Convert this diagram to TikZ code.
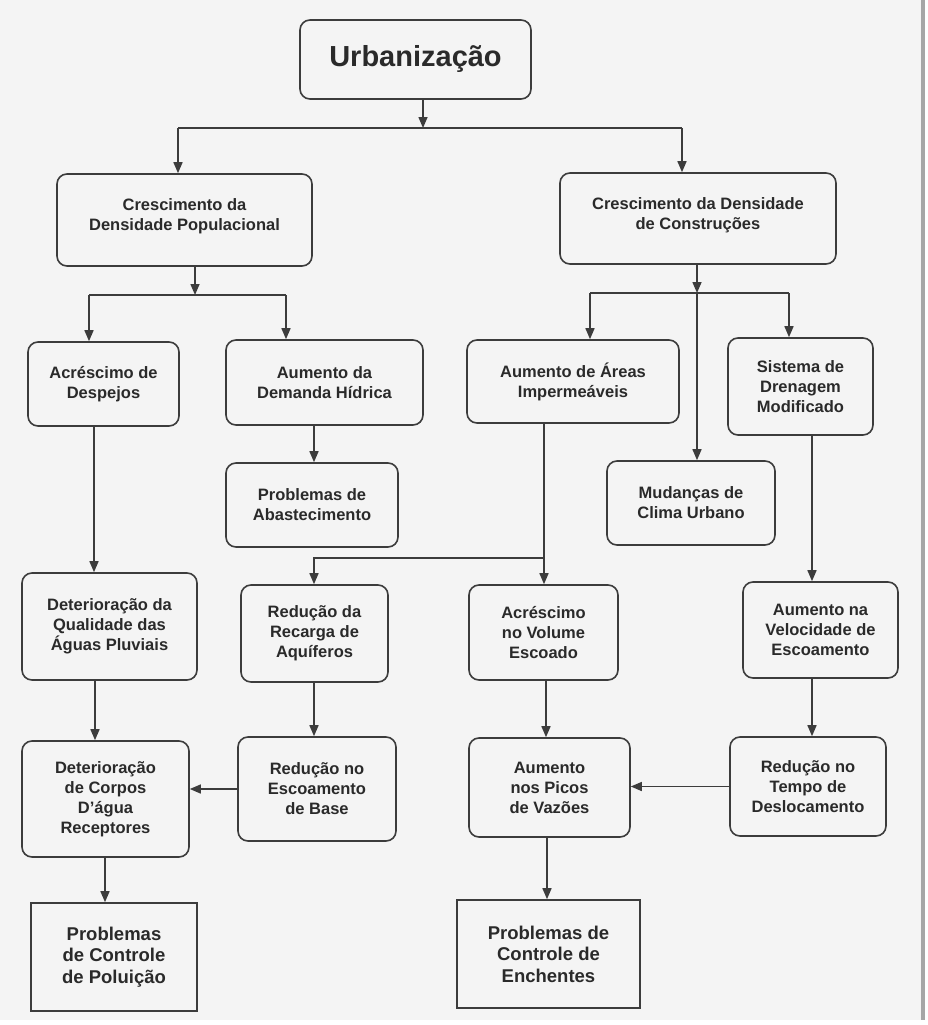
\documentclass[tikz,border=0pt]{standalone}
\usepackage{fontspec}
\setmainfont{Liberation Sans}
\usetikzlibrary{arrows.meta,calc}
\definecolor{bg}{HTML}{F4F4F4}
\definecolor{ln}{HTML}{3C3C3C}
\definecolor{tx}{HTML}{2A2A2A}
\tikzset{
  rbox/.style={draw=ln, line width=1.6pt, rounded corners=10pt, fill=bg, inner sep=0pt,
    align=center, text=tx, font=\fontsize{16.5}{20}\selectfont\bfseries},
  sbox/.style={draw=ln, line width=1.6pt, fill=bg, inner sep=0pt,
    align=center, text=tx, font=\fontsize{18.5}{21.5}\selectfont\bfseries},
  arr/.style={draw=ln, line width=1.5pt, -{Triangle[length=11pt,width=9pt]}},
  ln/.style={draw=ln, line width=1.5pt},
}
\begin{document}
\begin{tikzpicture}[x=1pt,y=-1pt]
\useasboundingbox (0,0) rectangle (927,1025);
\fill[white] (0,0) rectangle (927,1025);
\fill[bg] (0,0) rectangle (921,1020);
\fill[gray!70] (921,0) rectangle (925,1020);

% nodes
\node[rbox, minimum width=231pt, minimum height=79pt, font=\fontsize{29}{34}\selectfont\bfseries] (urb) at (415.5,59.5) {Urbanização};
\node[rbox, minimum width=255pt, minimum height=92pt, text depth=10pt] (cdp) at (184.5,220) {Crescimento da\\Densidade Populacional};
\node[rbox, minimum width=276pt, minimum height=91pt, text depth=10pt] (cdc) at (698,218.5) {Crescimento da Densidade\\de Construções};
\node[rbox, minimum width=151pt, minimum height=84pt] (desp) at (103.5,384) {Acréscimo de\\Despejos};
\node[rbox, minimum width=197pt, minimum height=85pt] (dem) at (324.5,382.5) {Aumento da\\Demanda Hídrica};
\node[rbox, minimum width=212pt, minimum height=83pt] (areas) at (573,381.5) {Aumento de Áreas\\Impermeáveis};
\node[rbox, minimum width=145pt, minimum height=97pt] (sist) at (800.5,386.5) {Sistema de\\Drenagem\\Modificado};
\node[rbox, minimum width=172pt, minimum height=84pt] (abast) at (312,505) {Problemas de\\Abastecimento};
\node[rbox, minimum width=168pt, minimum height=84pt] (clima) at (691,503) {Mudanças de\\Clima Urbano};
\node[rbox, minimum width=175pt, minimum height=107pt] (qual) at (109.5,626.5) {Deterioração da\\Qualidade das\\Águas Pluviais};
\node[rbox, minimum width=147pt, minimum height=97pt] (rec) at (314.5,633.5) {Redução da\\Recarga de\\Aquíferos};
\node[rbox, minimum width=149pt, minimum height=95pt] (vol) at (543.5,632.5) {Acréscimo\\no Volume\\Escoado};
\node[rbox, minimum width=155pt, minimum height=96pt] (vel) at (820.5,630) {Aumento na\\Velocidade de\\Escoamento};
\node[rbox, minimum width=167pt, minimum height=116pt] (corpos) at (105.5,799) {Deterioração\\de Corpos\\D'água\\Receptores};
\node[rbox, minimum width=158pt, minimum height=104pt] (base) at (317,789) {Redução no\\Escoamento\\de Base};
\node[rbox, minimum width=161pt, minimum height=99pt] (picos) at (549.5,787.5) {Aumento\\nos Picos\\de Vazões};
\node[rbox, minimum width=156pt, minimum height=99pt] (tempo) at (808,786.5) {Redução no\\Tempo de\\Deslocamento};
\node[sbox, minimum width=166pt, minimum height=108pt] (polu) at (114,957) {Problemas\\de Controle\\de Poluição};
\node[sbox, minimum width=183pt, minimum height=108pt] (ench) at (548.5,954) {Problemas de\\Controle de\\Enchentes};

% junction coordinates
\coordinate (j1) at (423,128);
\coordinate (jL) at (178,128);
\coordinate (jR) at (682,128);
\coordinate (j2) at (195,295);
\coordinate (a1) at (89,295);
\coordinate (a2) at (286,295);
\coordinate (j3) at (697,293);
\coordinate (b1) at (590,293);
\coordinate (b2) at (789,293);
\coordinate (x94) at (94,0);
\coordinate (x314) at (314,0);
\coordinate (x812) at (812,0);
\coordinate (x95) at (95,0);
\coordinate (x546) at (546,0);
\coordinate (x105) at (105,0);
\coordinate (x547) at (547,0);
\coordinate (k) at (544,558);
\coordinate (k2) at (314,558);

% connectors
\draw[arr] (urb.south -| j1) -- (j1);
\draw[ln] (jL) -- (jR);
\draw[arr] (jL) -- (jL |- cdp.north);
\draw[arr] (jR) -- (jR |- cdc.north);

\draw[arr] (cdp.south -| j2) -- (j2);
\draw[ln] (a1) -- (a2);
\draw[arr] (a1) -- (a1 |- desp.north);
\draw[arr] (a2) -- (a2 |- dem.north);

\draw[arr] (cdc.south -| j3) -- (j3);
\draw[arr] (j3) -- (j3 |- clima.north);
\draw[ln] (b1) -- (b2);
\draw[arr] (b1) -- (b1 |- areas.north);
\draw[arr] (b2) -- (b2 |- sist.north);

\draw[arr] (desp.south -| x94) -- (qual.north -| x94);
\draw[arr] (dem.south -| x314) -- (abast.north -| x314);
\draw[arr] (areas.south -| k) -- (vol.north -| k);
\draw[arr] (k) -- (k2) -- (k2 |- rec.north);
\draw[arr] (sist.south -| x812) -- (vel.north -| x812);

\draw[arr] (qual.south -| x95) -- (corpos.north -| x95);
\draw[arr] (rec.south -| x314) -- (base.north -| x314);
\draw[arr] (vol.south -| x546) -- (picos.north -| x546);
\draw[arr] (vel.south -| x812) -- (tempo.north -| x812);

\draw[arr] (base.west) -- (base.west -| corpos.east);
\draw[arr] (tempo.west) -- (tempo.west -| picos.east);

\draw[arr] (corpos.south -| x105) -- (polu.north -| x105);
\draw[arr] (picos.south -| x547) -- (ench.north -| x547);
\end{tikzpicture}
\end{document}
